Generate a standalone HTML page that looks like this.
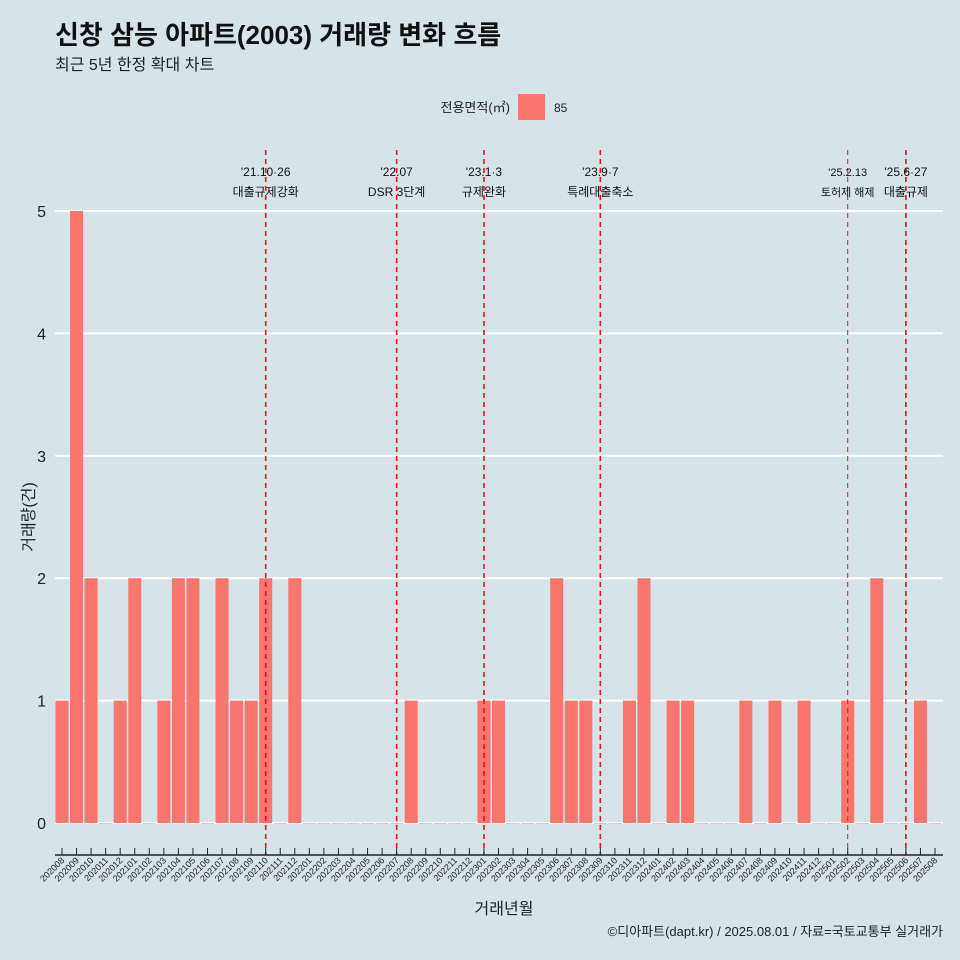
<!DOCTYPE html>
<html><head><meta charset="utf-8"><style>
body{margin:0;background:#d6e4ea;}
svg{display:block;font-family:"Liberation Sans","Noto Sans CJK KR",sans-serif;}
</style></head><body>
<svg id="c" width="960" height="960" xmlns="http://www.w3.org/2000/svg">
<rect width="960" height="960" fill="#d6e4ea"/>
<text x="55" y="44" font-size="26" font-weight="bold" fill="#111">신창 삼능 아파트(2003) 거래량 변화 흐름</text>
<text x="55" y="70" font-size="16" fill="#222">최근 5년 한정 확대 차트</text>
<text x="510" y="112" font-size="13" text-anchor="end" fill="#222">전용면적(㎡)</text>
<rect x="518" y="94" width="27" height="26" fill="#f8766d"/>
<text x="554" y="112" font-size="12" fill="#222">85</text>
<g id="grid"></g><g id="bars"></g><g id="events"></g><g id="xaxis"></g><g id="yaxis"></g>
<text x="504" y="914" font-size="16" text-anchor="middle" fill="#222">거래년월</text>
<text transform="translate(34,517) rotate(-90)" font-size="16" text-anchor="middle" fill="#222">거래량(건)</text>
<text x="943" y="936" font-size="13" text-anchor="end" fill="#222">©디아파트(dapt.kr) / 2025.08.01 / 자료=국토교통부 실거래가</text>
</svg>
<script>
const months=["202008","202009","202010","202011","202012","202101","202102","202103","202104","202105","202106","202107","202108","202109","202110","202111","202112","202201","202202","202203","202204","202205","202206","202207","202208","202209","202210","202211","202212","202301","202302","202303","202304","202305","202306","202307","202308","202309","202310","202311","202312","202401","202402","202403","202404","202405","202406","202407","202408","202409","202410","202411","202412","202501","202502","202503","202504","202505","202506","202507","202508"];
const counts=[1,5,2,0,1,2,0,1,2,2,0,2,1,1,2,0,2,0,0,0,0,0,0,0,1,0,0,0,0,1,1,0,0,0,2,1,1,0,0,1,2,0,1,1,0,0,0,1,0,1,0,1,0,0,1,0,2,0,0,1,0];
const yTicks=[0,1,2,3,4,5];
const eventMonths=["202110","202207","202301","202309","202502","202506"];
const eventLine1=["'21.10·26","'22.07","'23.1·3","'23.9·7","'25.2.13","'25.6·27"];
const eventLine2=["대출규제강화","DSR 3단계","규제완화","특례대출축소","토허제 해제","대출규제"];
const NS="http://www.w3.org/2000/svg";
const X0=62,STEP=14.55,Y0=823,YU=122.4,BW=13;
const x=i=>X0+i*STEP, y=v=>Y0-v*YU;
function mk(t,a,p){const e=document.createElementNS(NS,t);for(const k in a)e.setAttribute(k,a[k]);document.getElementById(p).appendChild(e);return e;}
yTicks.forEach(v=>{
 const l=mk('line',{x1:55,x2:943,y1:y(v),y2:y(v),stroke:'#fff','stroke-width':2},'grid');
 
 
 const t=mk('text',{x:46,y:y(v)+6,'font-size':16,'text-anchor':'end',fill:'#222'},'yaxis');t.textContent=v;
 
 
});
counts.forEach((c,i)=>{
 const r=mk('rect',{x:x(i)-BW/2,y:y(c),width:BW,height:Math.max(c*YU,0.5),fill:'#f8766d'},'bars');
 
 
});
mk('line',{x1:55,x2:943,y1:855,y2:855,stroke:'#222','stroke-width':1.5},'xaxis');
months.forEach((m,i)=>{
 const tk=mk('line',{x1:x(i),x2:x(i),y1:848,y2:855,stroke:'#222','stroke-width':1},'xaxis');
 
 
 const t=mk('text',{transform:`translate(${x(i)+3},${861}) rotate(-45)`,'font-size':9,'text-anchor':'end',fill:'#222'},'xaxis');t.textContent=m;
 
 
});
eventMonths.forEach((m,k)=>{
 const i=months.indexOf(m),ex=x(i);
 const thin=(m==="202502");
 const l=mk('line',{x1:ex,x2:ex,y1:150,y2:855,stroke:'#e8141e','stroke-width':thin?1:1.6,'stroke-dasharray':'5,4'},'events');
 
 
 const fs=thin?11:12;
 const a=mk('text',{x:ex,y:176,'font-size':fs,'text-anchor':'middle',fill:'#111'},'events');a.textContent=eventLine1[k];
 
 
 const b=mk('text',{x:ex,y:196,'font-size':fs,'text-anchor':'middle',fill:'#111'},'events');b.textContent=eventLine2[k];
 
 
});
</script>
</body></html>
